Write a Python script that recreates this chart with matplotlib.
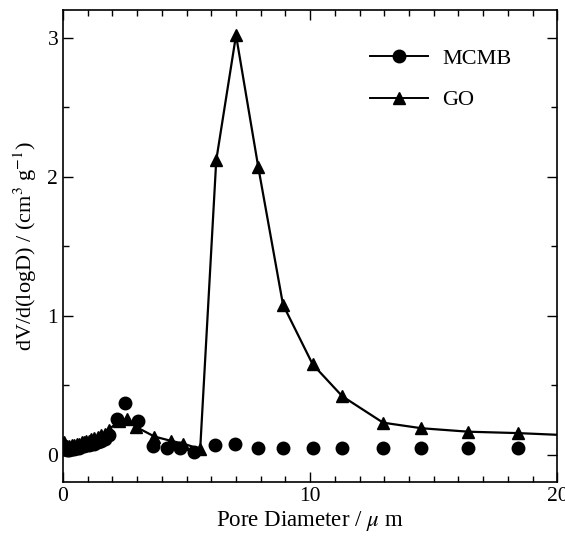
import matplotlib
matplotlib.use("Agg")
import matplotlib.pyplot as plt
from matplotlib.lines import Line2D
from matplotlib.ticker import MultipleLocator

plt.rcParams['font.family'] = ['Liberation Serif', 'DejaVu Serif']
plt.rcParams['mathtext.fontset'] = 'stix'

# MCMB pore size distribution (markers only)
mcmb_x = [0.05, 0.15, 0.25, 0.35, 0.45, 0.55, 0.65, 0.75, 0.85, 0.95, 1.05, 1.15, 1.25, 1.4, 1.55, 1.7, 1.85,
          2.2, 2.5, 3.05, 3.65, 4.2, 4.75, 5.3, 6.15, 6.95, 7.9, 8.9, 10.1, 11.3, 12.95, 14.5, 16.4, 18.4]
mcmb_y = [0.04, 0.03, 0.03, 0.04, 0.04, 0.05, 0.05, 0.06, 0.06, 0.07, 0.07, 0.08, 0.08, 0.09, 0.10, 0.11, 0.14,
          0.26, 0.37, 0.24, 0.06, 0.05, 0.05, 0.02, 0.07, 0.08, 0.05, 0.05, 0.05, 0.05, 0.05, 0.05, 0.05, 0.05]

# GO pore size distribution
go_x = [0.05, 0.15, 0.25, 0.35, 0.45, 0.55, 0.65, 0.75, 0.85, 0.95, 1.05, 1.15, 1.25, 1.4, 1.55, 1.7, 1.85,
        2.25, 2.6, 2.95, 3.7, 4.35, 4.85, 5.55, 6.2, 7.0, 7.9, 8.9, 10.1, 11.3, 12.95, 14.5, 16.4, 18.4, 21.0]
go_y = [0.09, 0.06, 0.06, 0.07, 0.07, 0.08, 0.08, 0.09, 0.09, 0.10, 0.10, 0.11, 0.12, 0.13, 0.14, 0.15, 0.18,
        0.24, 0.26, 0.20, 0.13, 0.10, 0.08, 0.04, 2.12, 3.02, 2.07, 1.08, 0.65, 0.42, 0.23, 0.19, 0.165, 0.155, 0.135]

fig = plt.figure(figsize=(5.65, 5.36), dpi=100)
ax = fig.add_axes([0.1115, 0.1, 0.875, 0.881])

ax.plot(mcmb_x, mcmb_y, linestyle='none', marker='o', color='black', markersize=9)
ax.plot(go_x, go_y, linestyle='-', marker='^', color='black', markersize=8.5, linewidth=1.6)

ax.set_xlim(0, 20)
ax.set_ylim(-0.2, 3.2)
ax.xaxis.set_major_locator(MultipleLocator(10))
ax.xaxis.set_minor_locator(MultipleLocator(1))
ax.yaxis.set_major_locator(MultipleLocator(1))
ax.yaxis.set_minor_locator(MultipleLocator(0.5))
ax.tick_params(which='both', direction='in', top=True, right=True, labelsize=15.5)
ax.tick_params(which='major', length=7, width=1)
ax.tick_params(which='minor', length=4, width=1)
for s in ax.spines.values():
    s.set_linewidth(1.2)

ax.set_xlabel(r'Pore Diameter / $\mu$ m', fontsize=16.5, labelpad=2)
ax.set_ylabel(r'dV/d(logD) / (cm$^3$ g$^{-1}$)', fontsize=16, labelpad=6)

handles = [Line2D([], [], color='black', marker='o', markersize=9, linewidth=1.4),
           Line2D([], [], color='black', marker='^', markersize=8.5, linewidth=1.4)]
ax.legend(handles, ['MCMB', 'GO'], loc='upper left', bbox_to_anchor=(0.581, 0.962),
          frameon=False, fontsize=16, handlelength=2.6, labelspacing=0.95, handletextpad=0.64)

fig.savefig('out.png', dpi=100)
